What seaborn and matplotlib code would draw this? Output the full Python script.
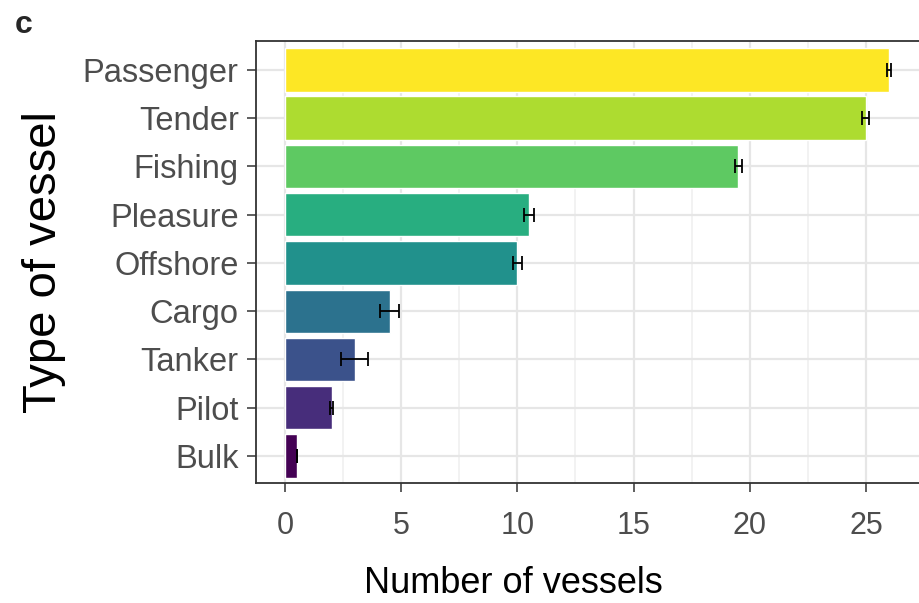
import numpy as np
import pandas as pd
import matplotlib
matplotlib.use("Agg")
import matplotlib.pyplot as plt
import seaborn as sns
from matplotlib.ticker import MultipleLocator

sns.set_theme(style="whitegrid")
plt.rcParams['font.family'] = ['Liberation Sans', 'DejaVu Sans']

# data
vessel_types = ["Passenger", "Tender", "Fishing", "Pleasure", "Offshore",
                "Cargo", "Tanker", "Pilot", "Bulk"]
n_vessels = [26.0, 25.0, 19.5, 10.5, 10.0, 4.5, 3.0, 2.0, 0.5]
n_err = [0.1, 0.15, 0.15, 0.2, 0.2, 0.4, 0.58, 0.05, 0.0]

df = pd.DataFrame({"type": vessel_types, "n": n_vessels, "err": n_err})

# ggplot-style viridis: Bulk darkest, Passenger yellow
vir = plt.get_cmap("viridis")(np.linspace(0, 1, len(vessel_types)))
pal = {t: vir[len(vessel_types) - 1 - i] for i, t in enumerate(vessel_types)}

fig = plt.figure(figsize=(9.2, 6.03), dpi=100)
ax = fig.add_axes([256 / 920, 1 - 483 / 603, 668 / 920, (483 - 41) / 603])

sns.barplot(data=df, x="n", y="type", hue="type", order=vessel_types,
            palette=pal, width=0.9, legend=False, saturation=1,
            errorbar=None, ax=ax, zorder=2)
ax.errorbar(df["n"], np.arange(len(df)), xerr=df["err"], fmt="none",
            ecolor="black", elinewidth=1.3, capsize=5, capthick=1.3, zorder=3)

ax.set_xlim(-1.25, 27.5)
ax.set_ylim(8.56, -0.6)
ax.xaxis.set_major_locator(MultipleLocator(5))
ax.xaxis.set_minor_locator(MultipleLocator(2.5))
ax.grid(True, which="major", color="#E6E6E6", linewidth=1.6, zorder=0)
ax.grid(True, which="minor", axis="x", color="#EFEFEF", linewidth=1.1, zorder=0)
ax.set_axisbelow(True)
for s in ax.spines.values():
    s.set_color("#333333")
    s.set_linewidth(1.3)

ax.tick_params(axis="both", which="major", length=6.5, width=1.1,
               color="#333333", labelcolor="#4D4D4D", bottom=True, left=True)
ax.tick_params(axis="y", labelsize=23.5, pad=6)
ax.tick_params(axis="x", labelsize=22, pad=14)

ax.set_xlabel("Number of vessels", fontsize=26, color="black")
ax.xaxis.set_label_coords((513 - 256) / 668, -(566 - 483) / 442, transform=ax.transAxes)
ax.xaxis.label.set_va("top")
ax.set_ylabel("Type of vessel", fontsize=34, color="black", labelpad=12)

fig.text(0.016, 1 - 33 / 603, "c", fontsize=23, fontweight="bold",
         va="baseline", ha="left")

fig.savefig("out.png", dpi=100)
